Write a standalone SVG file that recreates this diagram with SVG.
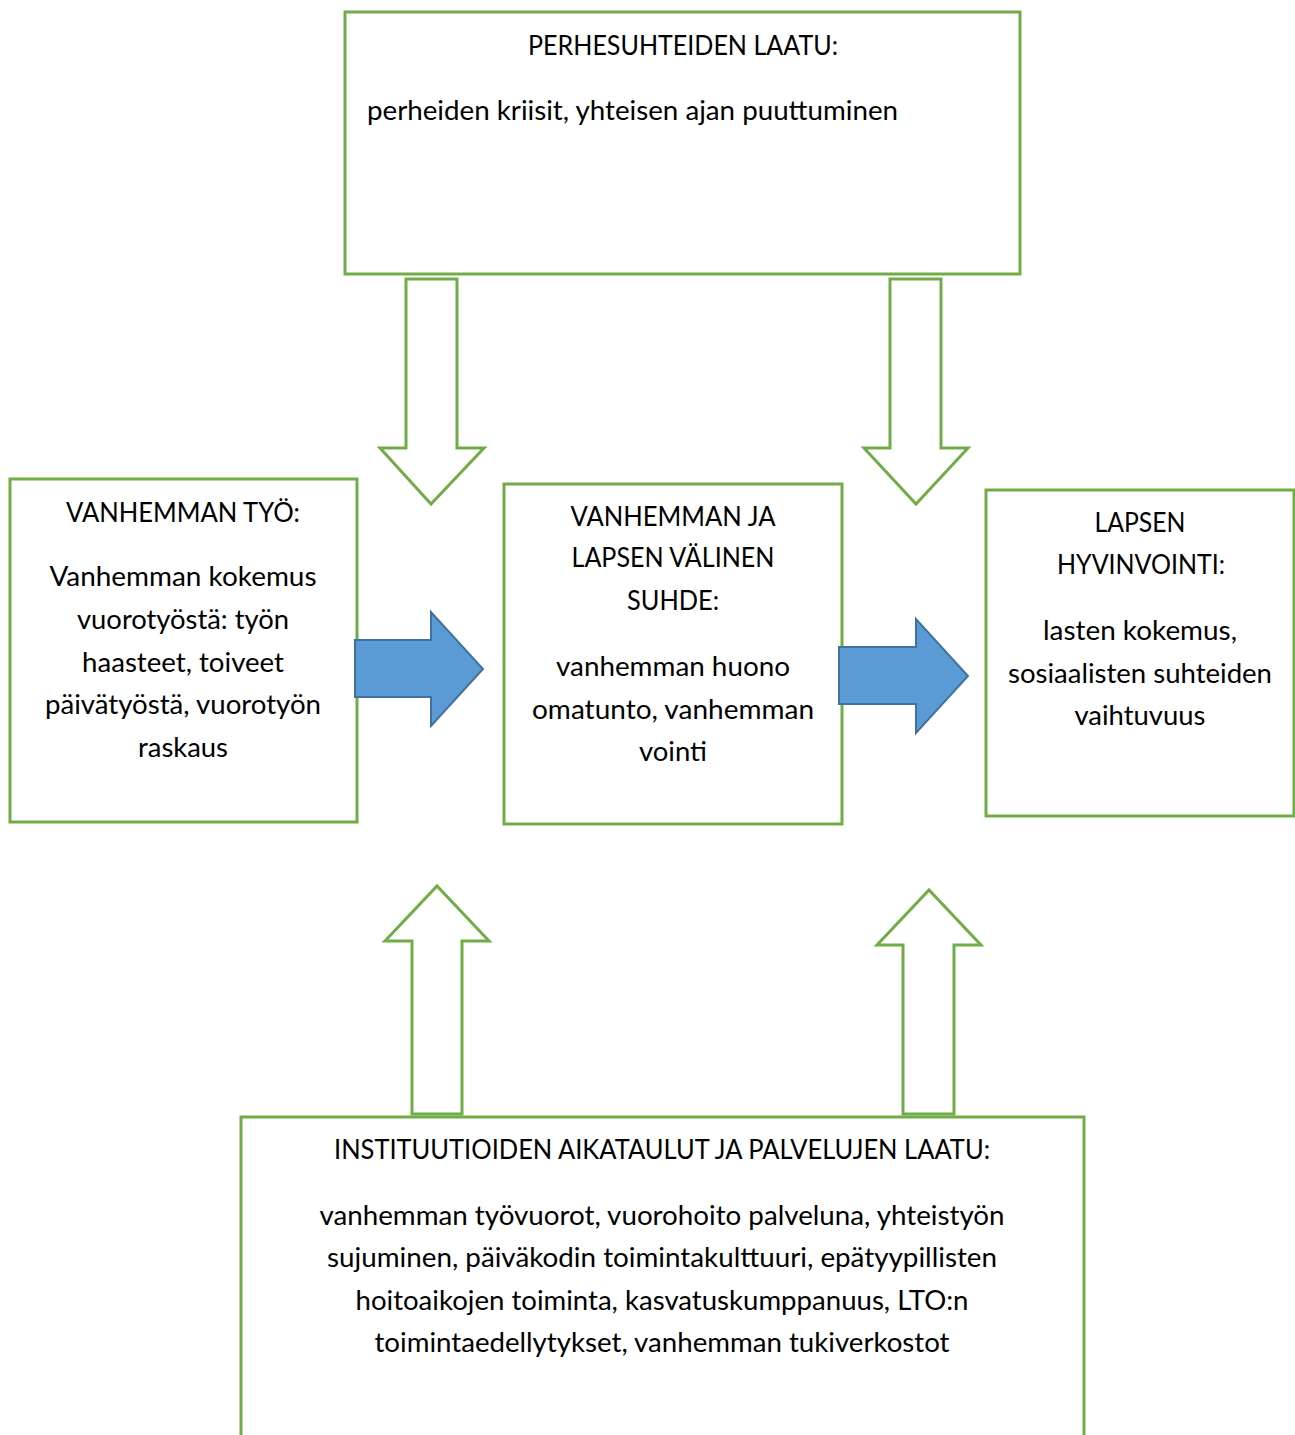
<svg xmlns="http://www.w3.org/2000/svg" width="1295" height="1435" viewBox="0 0 1295 1435">
<style>
.box{fill:#fff;stroke:#70AD47;stroke-width:3}
.garrow{fill:#fff;stroke:#70AD47;stroke-width:3;stroke-linejoin:miter}
.barrow{fill:#5B9BD5;stroke:#41719C;stroke-width:2}
text{font-family:Lato,"Open Sans","Liberation Sans",sans-serif;font-size:26px;fill:#000}
.c{text-anchor:middle}
</style>
<rect width="1295" height="1435" fill="#fff"/>
<g id="node-top">
<rect class="box" x="345" y="12" width="675" height="262"/>
<text class="c" x="683" y="55" textLength="310" lengthAdjust="spacingAndGlyphs">PERHESUHTEIDEN LAATU:</text>
<text x="367" y="120" textLength="531" lengthAdjust="spacingAndGlyphs">perheiden kriisit, yhteisen ajan puuttuminen</text>
</g>
<g id="node-left">
<rect class="box" x="10" y="479" width="347" height="343"/>
<text class="c" x="183" y="522" textLength="234" lengthAdjust="spacingAndGlyphs">VANHEMMAN TYÖ:</text>
<text class="c" x="183" y="586" textLength="267" lengthAdjust="spacingAndGlyphs">Vanhemman kokemus</text>
<text class="c" x="183" y="629" textLength="212" lengthAdjust="spacingAndGlyphs">vuorotyöstä: työn</text>
<text class="c" x="183" y="672" textLength="202" lengthAdjust="spacingAndGlyphs">haasteet, toiveet</text>
<text class="c" x="183" y="714" textLength="276" lengthAdjust="spacingAndGlyphs">päivätyöstä, vuorotyön</text>
<text class="c" x="183" y="757" textLength="90" lengthAdjust="spacingAndGlyphs">raskaus</text>
</g>
<g id="node-middle">
<rect class="box" x="504" y="484" width="338" height="340"/>
<text class="c" x="673" y="526" textLength="205" lengthAdjust="spacingAndGlyphs">VANHEMMAN JA</text>
<text class="c" x="673" y="567" textLength="203" lengthAdjust="spacingAndGlyphs">LAPSEN VÄLINEN</text>
<text class="c" x="673" y="610" textLength="92" lengthAdjust="spacingAndGlyphs">SUHDE:</text>
<text class="c" x="673" y="676" textLength="234" lengthAdjust="spacingAndGlyphs">vanhemman huono</text>
<text class="c" x="673" y="719" textLength="282" lengthAdjust="spacingAndGlyphs">omatunto, vanhemman</text>
<text class="c" x="673" y="761" textLength="68" lengthAdjust="spacingAndGlyphs">vointi</text>
</g>
<g id="node-right">
<rect class="box" x="986" y="490" width="308" height="326"/>
<text class="c" x="1140" y="532" textLength="91" lengthAdjust="spacingAndGlyphs">LAPSEN</text>
<text class="c" x="1141" y="574" textLength="168" lengthAdjust="spacingAndGlyphs">HYVINVOINTI:</text>
<text class="c" x="1140" y="640" textLength="194" lengthAdjust="spacingAndGlyphs">lasten kokemus,</text>
<text class="c" x="1140" y="683" textLength="264" lengthAdjust="spacingAndGlyphs">sosiaalisten suhteiden</text>
<text class="c" x="1140" y="725" textLength="131" lengthAdjust="spacingAndGlyphs">vaihtuvuus</text>
</g>
<g id="node-bottom">
<rect class="box" x="241" y="1117" width="843" height="330"/>
<text class="c" x="662" y="1159" textLength="656" lengthAdjust="spacingAndGlyphs">INSTITUUTIOIDEN AIKATAULUT JA PALVELUJEN LAATU:</text>
<text class="c" x="662" y="1225" textLength="685" lengthAdjust="spacingAndGlyphs">vanhemman työvuorot, vuorohoito palveluna, yhteistyön</text>
<text class="c" x="662" y="1267" textLength="670" lengthAdjust="spacingAndGlyphs">sujuminen, päiväkodin toimintakulttuuri, epätyypillisten</text>
<text class="c" x="662" y="1310" textLength="613" lengthAdjust="spacingAndGlyphs">hoitoaikojen toiminta, kasvatuskumppanuus, LTO:n</text>
<text class="c" x="662" y="1352" textLength="575" lengthAdjust="spacingAndGlyphs">toimintaedellytykset, vanhemman tukiverkostot</text>
</g>
<g id="connectors">
<polygon class="garrow" points="406,279 457,279 457,448 484,448 431,504 380,448 406,448"/>
<polygon class="garrow" points="890,279 941,279 941,448 968,448 916,504 864,448 890,448"/>
<polygon class="garrow" points="412,1114 462,1114 462,941 489,941 437,886 385,941 412,941"/>
<polygon class="garrow" points="903,1114 954,1114 954,945 981,945 929,890 877,945 903,945"/>
<polygon class="barrow" points="355,640 431,640 431,612 483,669 431,726 431,697 355,697"/>
<polygon class="barrow" points="839,647 916,647 916,619 968,676 916,733 916,704 839,704"/>
</g>
</svg>
